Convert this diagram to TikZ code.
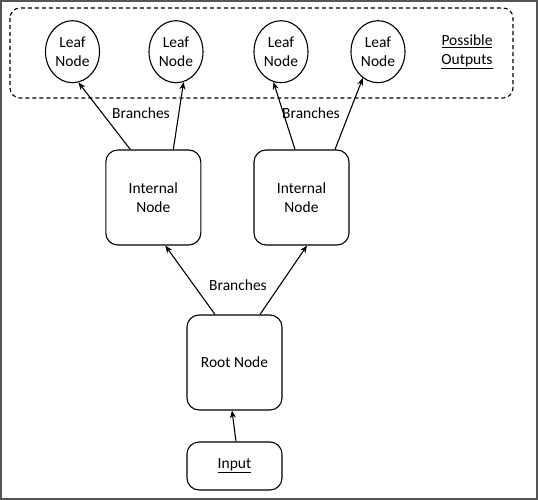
\documentclass[tikz,border=0pt]{standalone}
\usepackage{fontspec}
\setmainfont{Carlito}
\usepackage{tikz}
\usetikzlibrary{shapes.geometric, arrows.meta, calc}
\definecolor{framegray}{RGB}{85,85,85}
\tikzset{
  leaf/.style={ellipse, draw, line width=1.1pt, minimum width=54pt,
    minimum height=62pt, inner sep=0pt, align=center},
  box/.style={rectangle, draw, line width=1.1pt, rounded corners=12pt,
    minimum width=95pt, minimum height=95pt, align=center},
  inbox/.style={box, minimum height=48pt},
  lbl/.style={font=\fontsize{15.5}{19}\selectfont},
  arrow/.style={-{Stealth[length=7.5pt,width=6pt]}, line width=1.1pt}
}
\begin{document}
\begin{tikzpicture}[x=1pt, y=-1pt, every node/.style={font=\fontsize{15.5}{19}\selectfont}]
  \useasboundingbox (0,0) rectangle (538,500);
  \draw[framegray, line width=2pt] (1,1) rectangle (537,499);
  % possible outputs
  \draw[line width=1.1pt, dash pattern=on 4pt off 3pt, rounded corners=10pt] (10,8) rectangle (513,98);
  \node[leaf] (leafa) at (72.5,51.7) {Leaf\\Node};
  \node[leaf] (leafb) at (176,51.7) {Leaf\\Node};
  \node[leaf] (leafc) at (281,51.7) {Leaf\\Node};
  \node[leaf] (leafd) at (378,51.7) {Leaf\\Node};
  \node[align=center] (outs) at (467,51.7) {\underline{Possible}\\\underline{Outputs}};
  % tree
  \node[box] (inta) at (153.3,197.5) {Internal\\Node};
  \node[box] (intb) at (301.5,197.5) {Internal\\Node};
  \node[box] (root) at (234.5,362.5) {Root Node};
  \node[inbox] (input) at (234.5,466) {\underline{Input}};
  \node[lbl] (brla) at (141,113) {Branches};
  \node[lbl] (brlb) at (311,113) {Branches};
  \node[lbl] (brlc) at (238,285) {Branches};
  % connectors
  \draw[arrow] ([xshift=-23pt]inta.north) -- (leafa.-79);
  \draw[arrow] ([xshift=20pt]inta.north) -- (leafb.-76);
  \draw[arrow] ([xshift=-6.5pt]intb.north) -- (leafc.-104);
  \draw[arrow] ([xshift=33.5pt]intb.north) -- (leafd.-120);
  \draw[arrow] ([xshift=-19.5pt]root.north) -- ([xshift=12pt]inta.south);
  \draw[arrow] ([xshift=25.5pt]root.north) -- ([xshift=5.5pt]intb.south);
  \draw[arrow] ([xshift=1.5pt]input.north) -- ([xshift=-2.5pt]root.south);
\end{tikzpicture}
\end{document}
